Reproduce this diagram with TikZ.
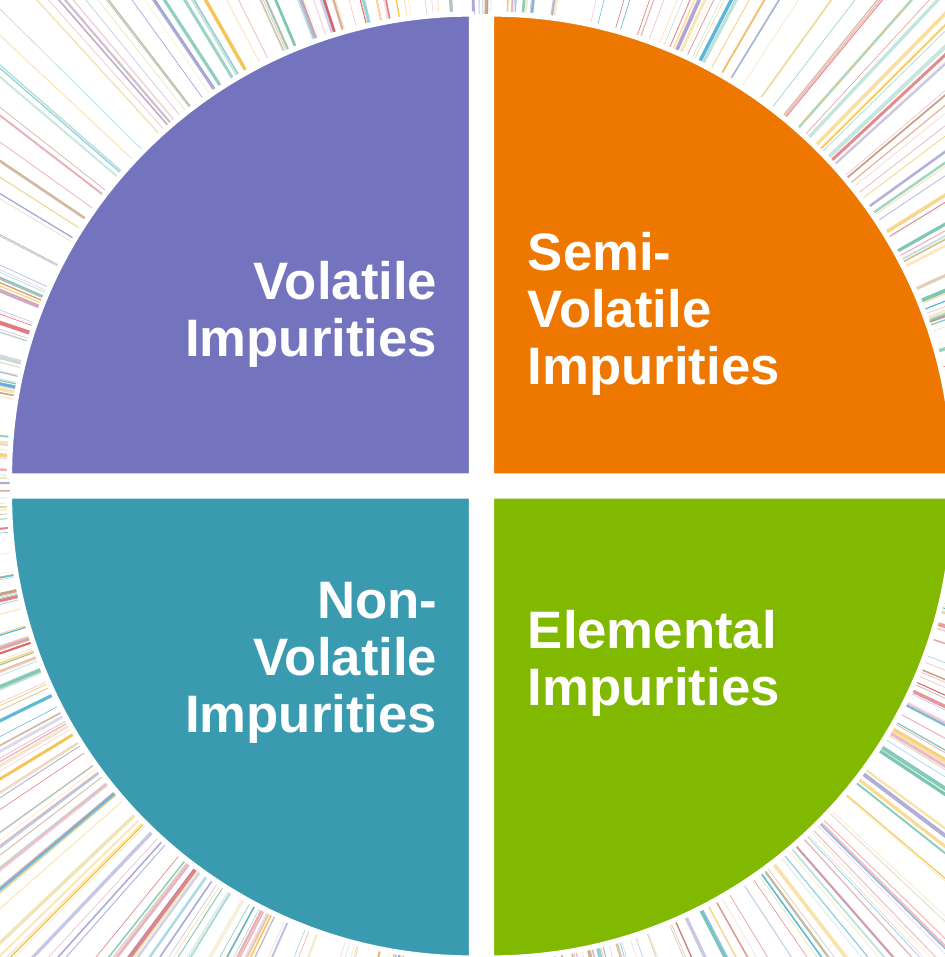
\documentclass[tikz,border=0pt]{standalone}
\usepackage{fontspec}
\setmainfont{Liberation Sans}
\usetikzlibrary{positioning}
\definecolor{Lavender}{HTML}{7474BE}
\definecolor{Amber}{HTML}{EE7700}
\definecolor{Teal}{HTML}{3A9BB0}
\definecolor{Lime}{HTML}{80B900}
% colours of the rays behind the disc
\definecolor{ray1}{HTML}{F4C04A}
\definecolor{ray2}{HTML}{D8545A}
\definecolor{ray3}{HTML}{4AAFCF}
\definecolor{ray4}{HTML}{72C2AE}
\definecolor{ray5}{HTML}{C19A78}
\definecolor{ray6}{HTML}{9C9CD2}
\definecolor{ray7}{HTML}{E3A6B4}
\definecolor{ray8}{HTML}{E9DA9C}

\begin{document}
\begin{tikzpicture}[
  x=0.02cm,y=0.02cm,
  quarter/.style={draw=white,line width=3pt,line join=miter},
  quadtext/.style={text=white,inner sep=0pt,font=\bfseries\fontsize{30}{32.5}\selectfont},
  ray/.style={line cap=round}
]
\useasboundingbox (-481.5,-471) rectangle (463.5,486);
\begin{scope}
\clip (-481.5,-471) rectangle (463.5,486);
% rays
\pgfmathsetseed{4217}
\foreach \i in {1,...,520}{
  \pgfmathsetmacro\ang{360*rnd}
  \pgfmathsetmacro\lw{0.3+2.0*rnd^3}
  \pgfmathsetmacro\op{0.35+0.6*rnd}
  \pgfmathrandominteger{\c}{1}{8}
  \draw[ray,color=ray\c,line width=\lw pt,opacity=\op] (\ang:300) -- (\ang:900);
}
% white disc under the quarters keeps the gaps clean
\fill[white] (0,0) circle[radius=472];
% the four quarters
\path[quarter,fill=Lavender] (-10,10) -- ++(0,462) arc[start angle=90,end angle=180,radius=462] -- cycle;
\path[quarter,fill=Amber] (10,10) -- ++(0,462) arc[start angle=90,end angle=0,radius=462] -- cycle;
\path[quarter,fill=Teal] (-10,-10) -- ++(0,-462) arc[start angle=270,end angle=180,radius=462] -- cycle;
\path[quarter,fill=Lime] (10,-10) -- ++(0,-462) arc[start angle=270,end angle=360,radius=462] -- cycle;
\end{scope}
\node[quadtext,anchor=east,align=right] (volatile) at (-44,172) {Volatile\\Impurities};
\node[quadtext,anchor=west,align=left] (semi) at (46,172) {Semi-\\Volatile\\Impurities};
\node[quadtext,anchor=east,align=right] (nonvol) at (-44,-177) {Non-\\Volatile\\Impurities};
\node[quadtext,anchor=west,align=left] (elemental) at (46,-177) {Elemental\\Impurities};
\end{tikzpicture}
\end{document}
